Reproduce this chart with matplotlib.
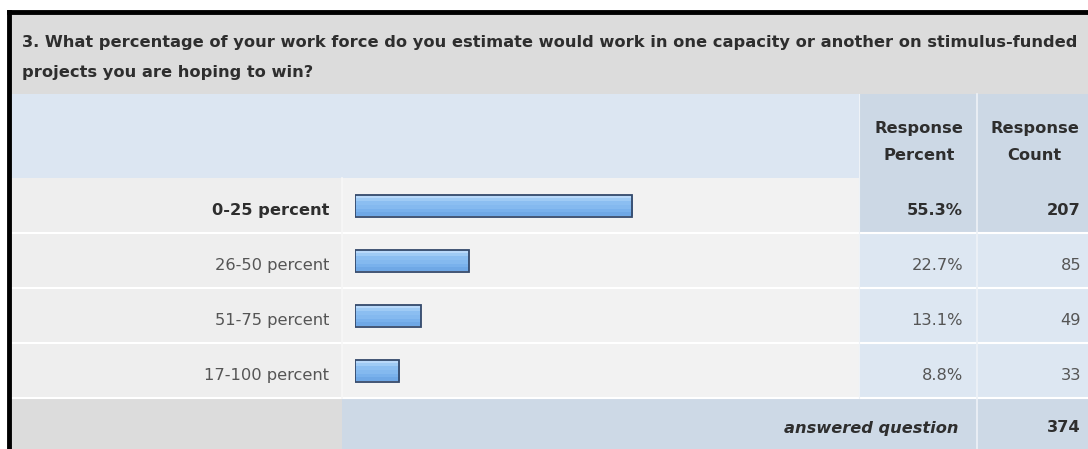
import numpy as np
import matplotlib
matplotlib.use("Agg")
import matplotlib.pyplot as plt
from matplotlib.patches import Rectangle
from matplotlib.colors import LinearSegmentedColormap

# data
question = ["3. What percentage of your work force do you estimate would work in one capacity or another on stimulus-funded",
            "projects you are hoping to win?"]
categories = ["0-25 percent", "26-50 percent", "51-75 percent", "17-100 percent"]
percents = [55.3, 22.7, 13.1, 8.8]
counts = [207, 85, 49, 33]
answered = 374

plt.rcParams['font.family'] = ['DejaVu Sans']

W, H = 1088, 449
fig = plt.figure(figsize=(W / 100, H / 100), dpi=100)
ax = fig.add_axes([0, 0, 1, 1])
ax.set_xlim(0, W)
ax.set_ylim(H, 0)
ax.axis('off')

# layout (pixels)
left, top = 11, 14
label_r = 342
pct_l, cnt_l = 859, 977
head_grey_b = 94
head_blue_b = 178
row_h = 55
foot_t = head_blue_b + row_h * len(categories)

def rect(x0, y0, x1, y1, color, z=0):
    ax.add_patch(Rectangle((x0, y0), x1 - x0, y1 - y0, facecolor=color, edgecolor='none', zorder=z))

# background
rect(0, 0, W, H, 'white')
rect(left, top, W, head_grey_b, '#dcdcdc')
rect(left, head_grey_b, W, head_blue_b, '#dce6f2')
rect(pct_l, head_grey_b, W, head_blue_b, '#ccd8e5')

for i in range(len(categories)):
    y0 = head_blue_b + i * row_h
    y1 = y0 + row_h
    rect(left, y0, label_r, y1, '#eeeeee')
    rect(label_r, y0, pct_l, y1, '#f2f2f2')
    rect(pct_l, y0, W, y1, '#ccd8e5' if i == 0 else '#dde7f2')

rect(left, foot_t, label_r, H, '#dcdcdc')
rect(label_r, foot_t, W, H, '#cdd9e6')

# separators
for i in range(1, len(categories) + 1):
    y = head_blue_b + i * row_h
    ax.plot([left, W], [y, y], color='white', lw=1.5, zorder=1)
ax.plot([label_r, label_r], [head_blue_b, foot_t], color='#f7f7f7', lw=1.2, zorder=1)
ax.plot([cnt_l, cnt_l], [head_grey_b, H], color='#eef2f7', lw=1.2, zorder=1)
ax.plot([pct_l, pct_l], [head_grey_b, foot_t], color='#eef2f7', lw=0.8, zorder=1)

# outer border
ax.plot([left - 2, left - 2], [H, top - 2], color='black', lw=3.5, solid_capstyle='projecting', zorder=5)
ax.plot([left - 2, W], [top - 2, top - 2], color='black', lw=3.5, solid_capstyle='projecting', zorder=5)

# text
dark, grey = '#2e2e2e', '#555555'
fs = 11.7
ax.text(22, 43, question[0], fontsize=fs, fontweight='bold', color=dark, va='center', ha='left')
ax.text(22, 73, question[1], fontsize=fs, fontweight='bold', color=dark, va='center', ha='left')
for xc, words in [((pct_l + cnt_l) / 2 + 1, ('Response', 'Percent')),
                  ((cnt_l + W) / 2 + 2, ('Response', 'Count'))]:
    ax.text(xc, 128, words[0], fontsize=fs, fontweight='bold', color=dark, ha='center', va='center')
    ax.text(xc, 156, words[1], fontsize=fs, fontweight='bold', color=dark, ha='center', va='center')

for i, (cat, p, c) in enumerate(zip(categories, percents, counts)):
    yc = head_blue_b + i * row_h + row_h / 2 + 5
    bold = i == 0
    col = dark if bold else grey
    fw = 'bold' if bold else 'normal'
    ax.text(329, yc, cat, fontsize=fs, fontweight=fw, color=col, ha='right', va='center')
    ax.text(963, yc, f"{p:.1f}%", fontsize=fs, fontweight=fw, color=col, ha='right', va='center')
    ax.text(1081, yc, str(c), fontsize=fs, fontweight=fw, color=col, ha='right', va='center')

ax.text(959, foot_t + 30, 'answered question', fontsize=fs, fontweight='bold', style='italic',
        color=dark, ha='right', va='center')
ax.text(1081, foot_t + 30, str(answered), fontsize=fs, fontweight='bold', color=dark,
        ha='right', va='center')

# bars: axes spanning 0..100 % over the bar column
bx0, bx1 = 355, 856
bax = fig.add_axes([bx0 / W, 1 - foot_t / H, (bx1 - bx0) / W, (foot_t - head_blue_b) / H])
bax.axis('off')
ypos = np.arange(len(categories))
bars = bax.barh(ypos, percents, height=0.4, color='#8fc0f2', edgecolor='#34496b', linewidth=1.3, zorder=3)

grad = np.array([[0.0], [0.25], [0.45], [0.6], [0.8], [1.0]])
cmap = LinearSegmentedColormap.from_list('bar', ['#b9d9fa', '#a6cff7', '#8ec0f2', '#84b9ef', '#79b1ec', '#6fa8e6'])
for b in bars:
    x0, y0 = b.get_x(), b.get_y()
    im = bax.imshow(grad, cmap=cmap, aspect='auto', zorder=2,
                    extent=(x0, x0 + b.get_width(), y0 + b.get_height(), y0))
    im.set_clip_path(b)
    b.set_facecolor('none')
bax.set_xlim(0, 100)
bax.set_ylim(len(categories) - 0.5, -0.5)

fig.savefig('out.png', dpi=100)
